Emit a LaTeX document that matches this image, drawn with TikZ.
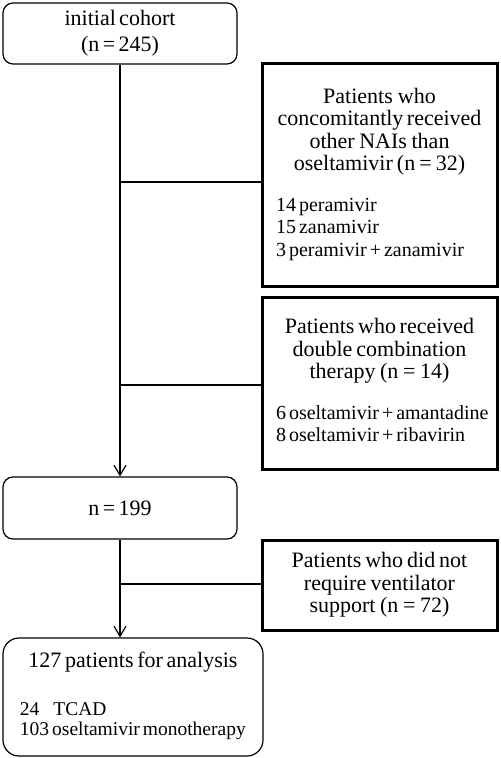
\documentclass[tikz,border=0pt]{standalone}
\usepackage{fontspec}
\setmainfont{Liberation Serif}[WordSpace=0.6]
\usetikzlibrary{arrows.meta}
\tikzset{
  roundbox/.style={draw,line width=0.6pt,rounded corners=5pt,align=center,inner sep=0pt,font=\fontsize{11}{13}\selectfont,execute at begin node={\spaceskip=0pt\xspaceskip=0pt}},
  sidebox/.style={draw,line width=1.5pt,text width=105.5pt,inner xsep=6pt,inner ysep=0pt,align=center,font=\fontsize{11}{11.3}\selectfont,execute at begin node={\spaceskip=0pt\xspaceskip=0pt}},
  flow/.style={line width=0.6pt},
  arr/.style={flow,-{Straight Barb[length=5pt,width=6pt]}}
}
\newcommand{\sublist}[2][\fontsize{10}{11.25}]{\makebox[\linewidth][l]{\hspace{1pt}#1\selectfont\begin{tabular}[t]{@{}l@{}}#2\end{tabular}}}
\begin{document}
\begin{tikzpicture}[x=0.5pt,y=-0.5pt]
\useasboundingbox (0,0) rectangle (500,758);
\node[roundbox,minimum width=117pt,minimum height=30.5pt](start) at (120,33.5){initial cohort\\(n = 245)};
\node[roundbox,minimum width=117pt,minimum height=31pt](mid) at (120,508){n = 199};
\node[roundbox,rounded corners=8pt,text width=115pt,inner xsep=7.5pt,minimum height=59pt](final) at (133,697){127 patients for analysis\\[11pt]\sublist[\fontsize{9.75}{10}]{24\hspace{7pt}TCAD\\103 oseltamivir monotherapy}};
\node[sidebox,minimum height=111.5pt](nai) at (379.5,175.5){Patients who\\concomitantly received\\other NAIs than\\oseltamivir (n = 32)\\[9pt]\sublist{14 peramivir\\15 zanamivir\\3 peramivir + zanamivir}};
\node[sidebox,minimum height=85.5pt](combo) at (379.5,383.5){Patients who received\\double combination\\therapy (n = 14)\\[9pt]\sublist{6 oseltamivir + amantadine\\8 oseltamivir + ribavirin}};
\node[sidebox,minimum height=45pt](vent) at (379.5,585){Patients who did not\\require ventilator\\support (n = 72)};
\coordinate(j1) at (120,182);
\coordinate(j2) at (120,385);
\coordinate(j3) at (120,584);
\draw[arr](start)--(mid);
\draw[arr](mid.south)--(mid.south|-final.north);
\draw[flow](j1)--(j1-|nai.west);
\draw[flow](j2)--(j2-|combo.west);
\draw[flow](j3)--(j3-|vent.west);
\end{tikzpicture}
\end{document}
